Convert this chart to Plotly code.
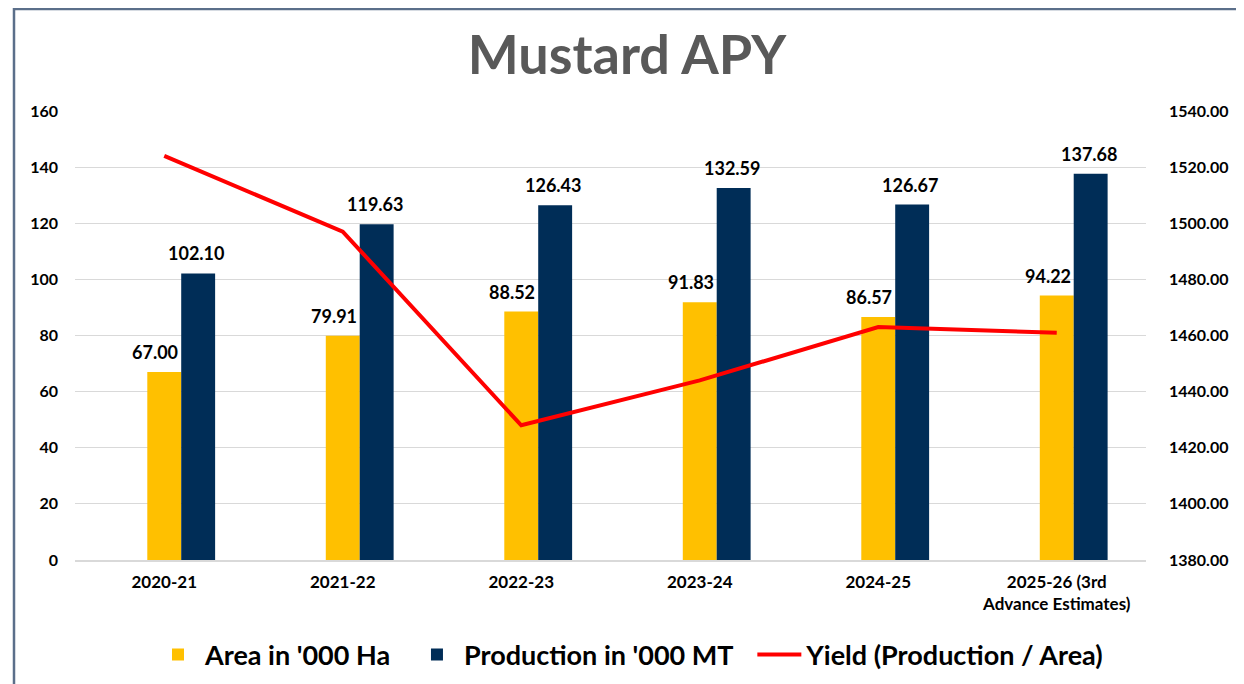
import plotly.graph_objects as go

categories = ["2020-21", "2021-22", "2022-23", "2023-24", "2024-25", "2025-26 (3rd<br>Advance Estimates)"]
area = [67.00, 79.91, 88.52, 91.83, 86.57, 94.22]
production = [102.10, 119.63, 126.43, 132.59, 126.67, 137.68]
yield_vals = [1524, 1497, 1428, 1444, 1463, 1461]
left_ticks = [0, 20, 40, 60, 80, 100, 120, 140, 160]
right_ticks = [1380, 1400, 1420, 1440, 1460, 1480, 1500, 1520, 1540]

FONT = "Lato"
idx = list(range(len(categories)))

# page has an 8px body margin; figure is laid out in its own pixel space
W, H = 1236, 676
L, T = 67, 103
DOM_R, DOM_B = 1138, 552
PW, PH = DOM_R - L, DOM_B - T
NBSP = "\u00a0"

fig = go.Figure()
fig.add_trace(go.Bar(
    x=idx, y=area, name=f"<b>Area in '000 Ha</b>{NBSP*2}", marker_color="#FFC000",
    offset=-0.095, width=0.19, marker_line_width=0,
))
fig.add_trace(go.Bar(
    x=idx, y=production, name=f"<b>Production in '000 MT</b>{NBSP*2}", marker_color="#002D57",
    offset=0.095, width=0.19, marker_line_width=0,
))
fig.add_trace(go.Scatter(
    x=idx, y=yield_vals, name="<b>Yield (Production / Area)</b>", mode="lines",
    line=dict(color="#FF0000", width=4), yaxis="y2",
))

annotations = []
for i, v in zip(idx, area):
    annotations.append(dict(x=i, y=v, xref="x", yref="y", text=f"<b>{v:.2f}</b>", showarrow=False,
                            xshift=-9, yshift=20, yanchor="middle",
                            font=dict(size=18, color="#000000", family=FONT)))
for i, v in zip(idx, production):
    annotations.append(dict(x=i, y=v, xref="x", yref="y", text=f"<b>{v:.2f}</b>", showarrow=False,
                            xshift=32, yshift=20, yanchor="middle",
                            font=dict(size=18, color="#000000", family=FONT)))

fig.update_layout(
    width=W, height=H,
    margin=dict(l=L, r=W - DOM_R, t=T, b=H - DOM_B, autoexpand=False),
    paper_bgcolor="white", plot_bgcolor="white",
    font=dict(family=FONT, color="#000000"),
    title=dict(text="<b>Mustard APY</b>", x=(627 - 8) / W, xanchor="center",
               y=1 - (55 - 8) / H, yanchor="middle",
               font=dict(size=54, color="#595959", family=FONT), automargin=False),
    barmode="overlay",
    xaxis=dict(
        tickmode="array", tickvals=idx, ticktext=[f"<b>{c}</b>" for c in categories],
        range=[-0.5, 5.5], showgrid=False, showline=True, linecolor="#D9D9D9", linewidth=1.5,
        tickfont=dict(size=17, color="#000000", family=FONT), ticks="", ticklabelstandoff=6,
        automargin=False,
    ),
    yaxis=dict(
        range=[0, 160], tickvals=left_ticks, ticktext=[f"<b>{t}</b>" for t in left_ticks],
        showgrid=True, gridcolor="#D9D9D9", gridwidth=1.2, zeroline=False,
        tickfont=dict(size=16, color="#000000", family=FONT), ticks="", ticklabelstandoff=16,
        automargin=False,
    ),
    yaxis2=dict(
        range=[1380, 1540], overlaying="y", side="right",
        tickvals=right_ticks, ticktext=[f"<b>{t:.2f}</b>" for t in right_ticks],
        showgrid=False, zeroline=False,
        tickfont=dict(size=16, color="#000000", family=FONT), ticks="", ticklabelstandoff=22,
        automargin=False,
    ),
    legend=dict(orientation="h", x=(630 - 8 - L) / PW, xanchor="center",
                y=-(655 - 8 - DOM_B) / PH, yanchor="middle",
                font=dict(size=27, color="#000000", family=FONT), itemwidth=44,
                traceorder="normal"),
    showlegend=True,
    annotations=annotations,
    shapes=[dict(type="rect", xref="paper", yref="paper",
                 x0=(6 - L) / PW, x1=(1231 - L) / PW,
                 y0=-0.4, y1=(DOM_B - 1) / PH,
                 line=dict(color="#5B6F8A", width=2.5), fillcolor="rgba(0,0,0,0)", layer="below")],
)

fig.write_html("out.html")
